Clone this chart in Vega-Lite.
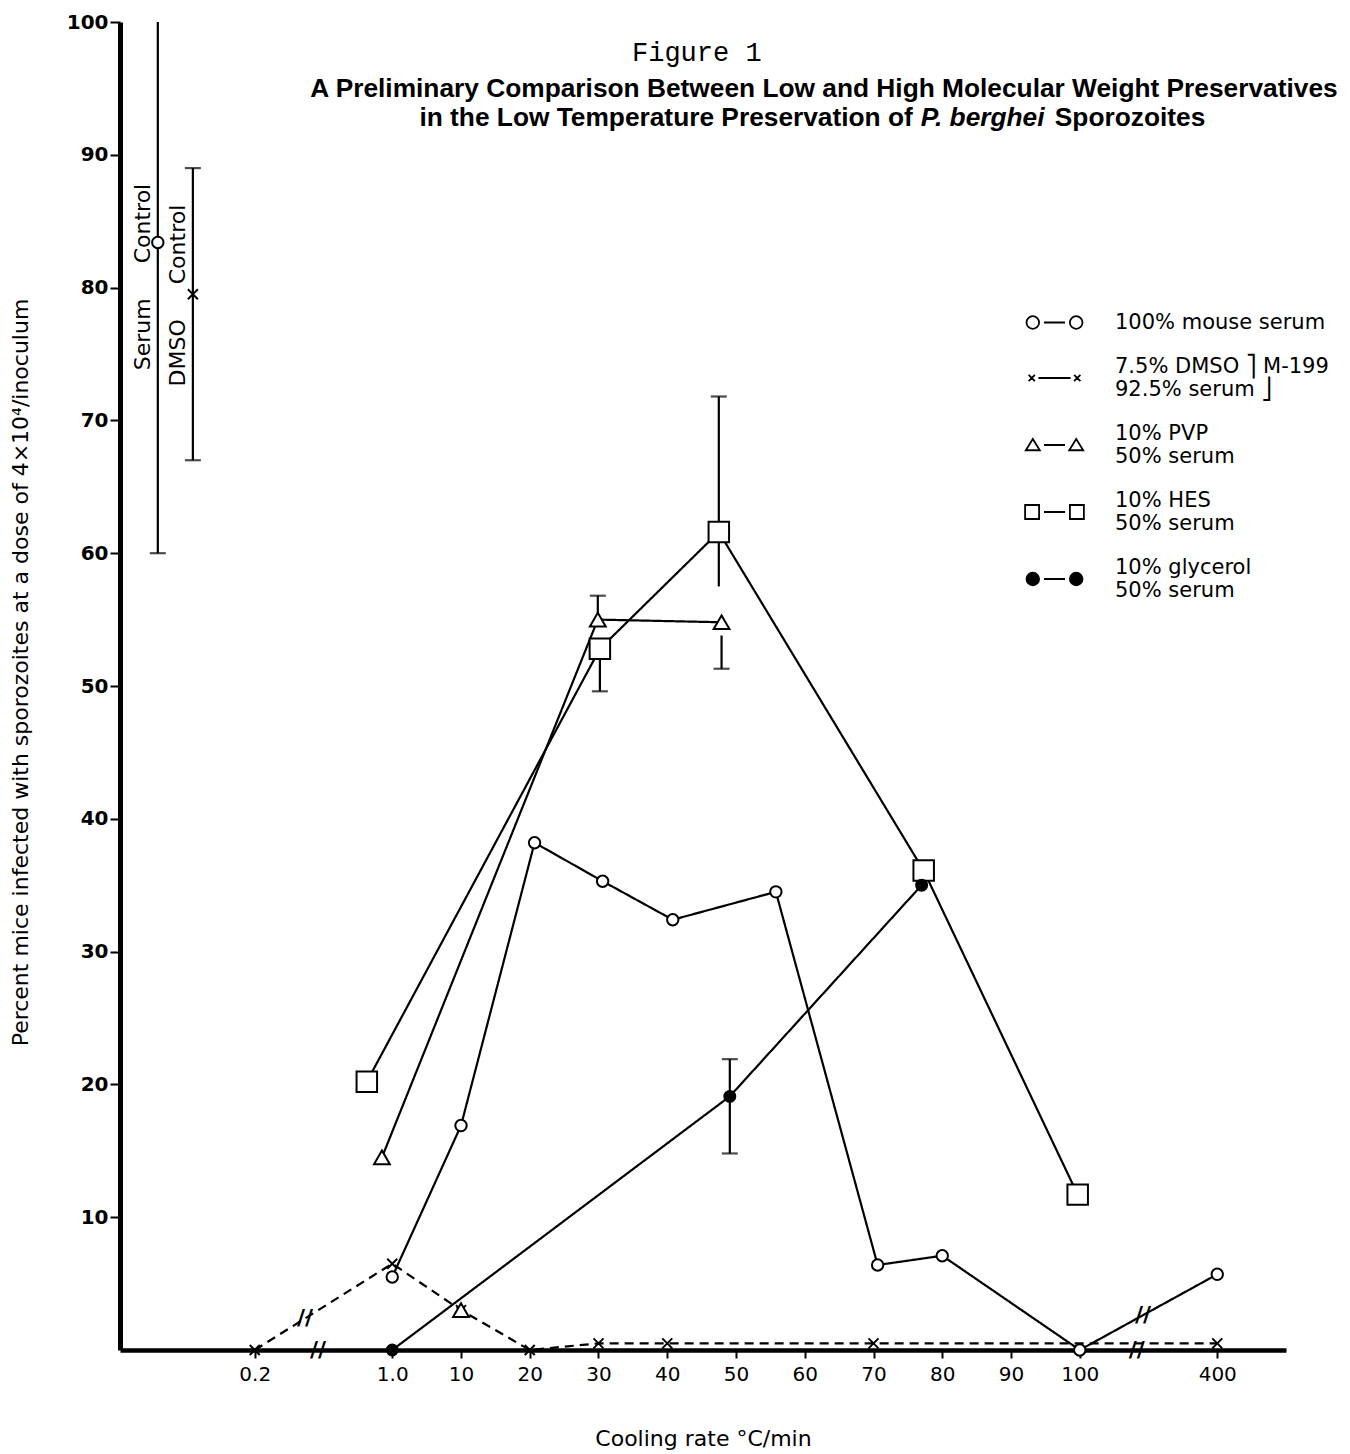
{
  "$schema": "https://vega.github.io/schema/vega-lite/v6.json",
  "width": 1166,
  "height": 1328,
  "autosize": {"type": "none"},
  "padding": {"left": 120, "top": 22, "right": 64, "bottom": 104},
  "background": "white",
  "config": {"view": {"stroke": null}, "font": "DejaVu Sans"},
  "datasets": {
    "points": [
      {"series": "100% mouse serum", "x": 0, "pct": 5.5, "joined": true},
      {"series": "100% mouse serum", "x": 10, "pct": 16.9, "joined": true},
      {"series": "100% mouse serum", "x": 20.7, "pct": 38.2, "joined": true},
      {"series": "100% mouse serum", "x": 30.6, "pct": 35.3, "joined": true},
      {"series": "100% mouse serum", "x": 40.8, "pct": 32.4, "joined": true},
      {"series": "100% mouse serum", "x": 55.8, "pct": 34.5, "joined": true},
      {"series": "100% mouse serum", "x": 70.6, "pct": 6.4, "joined": true},
      {"series": "100% mouse serum", "x": 80, "pct": 7.1, "joined": true},
      {"series": "100% mouse serum", "x": 100, "pct": 0, "joined": true},
      {"series": "100% mouse serum", "x": 120, "pct": 5.7, "joined": true},
      {"series": "100% mouse serum", "x": -34.1, "pct": 83.4, "joined": false},
      {"series": "7.5% DMSO / 92.5% serum", "x": -20, "pct": 0, "joined": true},
      {"series": "7.5% DMSO / 92.5% serum", "x": 0, "pct": 6.5, "joined": true},
      {"series": "7.5% DMSO / 92.5% serum", "x": 10, "pct": 3.0, "joined": true},
      {"series": "7.5% DMSO / 92.5% serum", "x": 20, "pct": 0, "joined": true},
      {"series": "7.5% DMSO / 92.5% serum", "x": 30, "pct": 0.5, "joined": true},
      {"series": "7.5% DMSO / 92.5% serum", "x": 40, "pct": 0.5, "joined": true},
      {"series": "7.5% DMSO / 92.5% serum", "x": 70, "pct": 0.5, "joined": true},
      {"series": "7.5% DMSO / 92.5% serum", "x": 120, "pct": 0.5, "joined": true},
      {"series": "7.5% DMSO / 92.5% serum", "x": -29.0, "pct": 79.5, "joined": false},
      {"series": "10% PVP / 50% serum", "x": -1.5, "pct": 14.5, "joined": true},
      {"series": "10% PVP / 50% serum", "x": 10, "pct": 3.0, "joined": false},
      {"series": "10% PVP / 50% serum", "x": 29.9, "pct": 55.0, "joined": true},
      {"series": "10% PVP / 50% serum", "x": 47.9, "pct": 54.8, "joined": true},
      {"series": "10% HES / 50% serum", "x": -3.7, "pct": 20.2, "joined": true},
      {"series": "10% HES / 50% serum", "x": 30.2, "pct": 52.8, "joined": true},
      {"series": "10% HES / 50% serum", "x": 47.5, "pct": 61.6, "joined": true},
      {"series": "10% HES / 50% serum", "x": 77.3, "pct": 36.1, "joined": true},
      {"series": "10% HES / 50% serum", "x": 99.7, "pct": 11.7, "joined": true},
      {"series": "10% glycerol / 50% serum", "x": 0, "pct": 0, "joined": true},
      {"series": "10% glycerol / 50% serum", "x": 49.1, "pct": 19.1, "joined": true},
      {"series": "10% glycerol / 50% serum", "x": 77.0, "pct": 35.0, "joined": true}
    ],
    "errors": [
      {"series": "100% mouse serum", "x": -34.1, "lo": 60, "hi": 100, "capLo": true, "capHi": false},
      {"series": "7.5% DMSO / 92.5% serum", "x": -29.0, "lo": 67, "hi": 89, "capLo": true, "capHi": true},
      {"series": "10% PVP / 50% serum", "x": 29.9, "lo": 55, "hi": 56.8, "capLo": false, "capHi": true},
      {"series": "10% HES / 50% serum", "x": 30.2, "lo": 49.6, "hi": 52.8, "capLo": true, "capHi": false},
      {"series": "10% HES / 50% serum", "x": 47.5, "lo": 57.5, "hi": 71.8, "capLo": false, "capHi": true},
      {"series": "10% PVP / 50% serum", "x": 47.9, "lo": 51.3, "hi": 53.8, "capLo": true, "capHi": false},
      {"series": "10% glycerol / 50% serum", "x": 49.1, "lo": 14.8, "hi": 21.9, "capLo": true, "capHi": true}
    ],
    "breaks": [
      {"x": -10.8, "pct": 0, "on": "axis"},
      {"x": 108.3, "pct": 0, "on": "axis"},
      {"x": -12.7, "pct": 2.4, "on": "line"},
      {"x": 109.2, "pct": 2.6, "on": "line"}
    ],
    "legendItems": [
      {"series": "100% mouse serum"},
      {"series": "7.5% DMSO / 92.5% serum"},
      {"series": "10% PVP / 50% serum"},
      {"series": "10% HES / 50% serum"},
      {"series": "10% glycerol / 50% serum"}
    ]
  },
  "layer": [
    {
      "data": {"name": "points"},
      "transform": [{"filter": "datum.joined"}],
      "mark": {"type": "line", "color": "black", "strokeWidth": 2.2},
      "encoding": {
        "x": {
          "field": "x", "type": "quantitative",
          "scale": {"domain": [-39.6, 130], "nice": false, "zero": false},
          "axis": {
            "values": [-20, 0, 10, 20, 30, 40, 50, 60, 70, 80, 90, 100, 120],
            "labelExpr": "datum.value == -20 ? '0.2' : datum.value == 0 ? '1.0' : datum.value == 120 ? '400' : datum.label",
            "title": "Cooling rate °C/min",
            "grid": false, "domainColor": "black", "domainWidth": 4.5,
            "tickColor": "black", "tickWidth": 2, "tickSize": 8,
            "labelFont": "DejaVu Sans", "labelFontSize": 20, "labelColor": "black", "labelPadding": 6,
            "titleFont": "DejaVu Sans", "titleFontSize": 22, "titleFontWeight": "normal", "titleColor": "black",
            "titleY": 78, "titleBaseline": "top"
          }
        },
        "y": {
          "field": "pct", "type": "quantitative",
          "scale": {"domain": [0, 100], "nice": false, "zero": true},
          "axis": {
            "values": [10, 20, 30, 40, 50, 60, 70, 80, 90, 100],
            "title": "Percent mice infected with sporozoites at a dose of 4×10⁴/inoculum",
            "grid": false, "domainColor": "black", "domainWidth": 5,
            "tickColor": "black", "tickWidth": 2, "tickSize": 10,
            "labelFont": "DejaVu Sans", "labelFontSize": 20, "labelFontWeight": "bold", "labelColor": "black", "labelPadding": 2,
            "titleFont": "DejaVu Sans", "titleFontSize": 22, "titleFontWeight": "normal", "titleColor": "black",
            "titleX": -100, "titleY": 650, "titleAngle": 270, "titleAlign": "center", "titleBaseline": "middle"
          }
        },
        "detail": {"field": "series", "type": "nominal"},
        "strokeDash": {
          "field": "series", "type": "nominal",
          "scale": {
            "domain": ["100% mouse serum", "7.5% DMSO / 92.5% serum", "10% PVP / 50% serum", "10% HES / 50% serum", "10% glycerol / 50% serum"],
            "range": [[1, 0], [9, 6], [1, 0], [1, 0], [1, 0]]
          },
          "legend": null
        }
      }
    },
    {
      "data": {"name": "errors"},
      "mark": {"type": "rule", "color": "black", "strokeWidth": 2.2},
      "encoding": {
        "x": {"field": "x", "type": "quantitative"},
        "y": {"field": "lo", "type": "quantitative"},
        "y2": {"field": "hi"}
      }
    },
    {
      "data": {"name": "errors"},
      "transform": [{"filter": "datum.capLo"}],
      "mark": {"type": "tick", "orient": "horizontal", "color": "black", "size": 16, "thickness": 2.2},
      "encoding": {
        "x": {"field": "x", "type": "quantitative"},
        "y": {"field": "lo", "type": "quantitative"}
      }
    },
    {
      "data": {"name": "errors"},
      "transform": [{"filter": "datum.capHi"}],
      "mark": {"type": "tick", "orient": "horizontal", "color": "black", "size": 16, "thickness": 2.2},
      "encoding": {
        "x": {"field": "x", "type": "quantitative"},
        "y": {"field": "hi", "type": "quantitative"}
      }
    },
    {
      "data": {"name": "points"},
      "mark": {"type": "point", "filled": true, "stroke": "black", "strokeWidth": 2, "opacity": 1},
      "encoding": {
        "x": {"field": "x", "type": "quantitative"},
        "y": {"field": "pct", "type": "quantitative"},
        "shape": {
          "field": "series", "type": "nominal",
          "scale": {
            "domain": ["100% mouse serum", "7.5% DMSO / 92.5% serum", "10% PVP / 50% serum", "10% HES / 50% serum", "10% glycerol / 50% serum"],
            "range": ["circle", "M-1,-1L1,1M-1,1L1,-1", "triangle-up", "square", "circle"]
          },
          "legend": null
        },
        "fill": {
          "field": "series", "type": "nominal",
          "scale": {
            "domain": ["100% mouse serum", "7.5% DMSO / 92.5% serum", "10% PVP / 50% serum", "10% HES / 50% serum", "10% glycerol / 50% serum"],
            "range": ["white", "white", "white", "white", "black"]
          },
          "legend": null
        },
        "size": {
          "field": "series", "type": "nominal",
          "scale": {
            "type": "ordinal",
            "domain": ["100% mouse serum", "7.5% DMSO / 92.5% serum", "10% PVP / 50% serum", "10% HES / 50% serum", "10% glycerol / 50% serum"],
            "range": [130, 100, 250, 420, 120]
          },
          "legend": null
        }
      }
    },
    {
      "data": {"name": "breaks"},
      "mark": {"type": "text", "text": "//", "font": "DejaVu Sans", "fontSize": 22, "fontWeight": "bold", "align": "center", "baseline": "middle", "color": "black"},
      "encoding": {
        "x": {"field": "x", "type": "quantitative"},
        "y": {"field": "pct", "type": "quantitative"}
      }
    },
    {
      "data": {"values": [{}]},
      "mark": {"type": "text", "text": "Serum\u00a0\u00a0\u00a0\u00a0\u00a0Control", "angle": 270, "font": "DejaVu Sans", "fontSize": 22, "align": "center", "baseline": "middle", "color": "black"},
      "encoding": {"x": {"datum": -36.3, "type": "quantitative"}, "y": {"datum": 80.8, "type": "quantitative"}}
    },
    {
      "data": {"values": [{}]},
      "mark": {"type": "text", "text": "DMSO\u00a0\u00a0\u00a0\u00a0\u00a0Control", "angle": 270, "font": "DejaVu Sans", "fontSize": 22, "align": "center", "baseline": "middle", "color": "black"},
      "encoding": {"x": {"datum": -31.2, "type": "quantitative"}, "y": {"datum": 79.4, "type": "quantitative"}}
    },
    {
      "data": {"values": [{}]},
      "mark": {"type": "text", "text": "Figure 1", "font": "Liberation Mono", "fontSize": 27, "align": "center", "baseline": "alphabetic", "color": "black"},
      "encoding": {"x": {"datum": 44.3, "type": "quantitative"}, "y": {"datum": 97.1, "type": "quantitative"}}
    },
    {
      "data": {"values": [{}]},
      "mark": {"type": "text", "text": "A Preliminary Comparison Between Low and High Molecular Weight Preservatives", "font": "Liberation Sans", "fontSize": 26.3, "fontWeight": "bold", "align": "center", "baseline": "alphabetic", "color": "black"},
      "encoding": {"x": {"datum": 62.8, "type": "quantitative"}, "y": {"datum": 94.35, "type": "quantitative"}}
    },
    {
      "data": {"values": [{}]},
      "mark": {"type": "text", "text": "in the Low Temperature Preservation of", "font": "Liberation Sans", "fontSize": 26.3, "fontWeight": "bold", "align": "right", "dx": -4, "baseline": "alphabetic", "color": "black"},
      "encoding": {"x": {"datum": 76.3, "type": "quantitative"}, "y": {"datum": 92.2, "type": "quantitative"}}
    },
    {
      "data": {"values": [{}]},
      "mark": {"type": "text", "text": "P. berghei", "font": "Liberation Sans", "fontSize": 26.3, "fontWeight": "bold", "fontStyle": "italic", "align": "left", "dx": 4, "baseline": "alphabetic", "color": "black"},
      "encoding": {"x": {"datum": 76.3, "type": "quantitative"}, "y": {"datum": 92.2, "type": "quantitative"}}
    },
    {
      "data": {"values": [{}]},
      "mark": {"type": "text", "text": "Sporozoites", "font": "Liberation Sans", "fontSize": 26.3, "fontWeight": "bold", "align": "left", "dx": 138, "baseline": "alphabetic", "color": "black"},
      "encoding": {"x": {"datum": 76.3, "type": "quantitative"}, "y": {"datum": 92.2, "type": "quantitative"}}
    },
    {
      "data": {"name": "legendItems"},
      "mark": {"type": "point", "filled": false, "opacity": 0, "strokeWidth": 1.8},
      "encoding": {
        "x": {"datum": 0, "type": "quantitative"},
        "y": {"datum": 50, "type": "quantitative"},
        "shape": {
          "field": "series", "type": "nominal",
          "scale": {
            "domain": ["100% mouse serum", "7.5% DMSO / 92.5% serum", "10% PVP / 50% serum", "10% HES / 50% serum", "10% glycerol / 50% serum"],
            "range": [
              "M-2.2,0A0.9,0.9,0,1,1,-4,0A0.9,0.9,0,1,1,-2.2,0ZM-1.5,0L1.5,0M4,0A0.9,0.9,0,1,1,2.2,0A0.9,0.9,0,1,1,4,0Z",
              "M-3.7,1.19L-2.8,2.09M-3.7,2.09L-2.8,1.19M-2.3,1.64L2.3,1.64M2.8,1.19L3.7,2.09M2.8,2.09L3.7,1.19",
              "M-3.1,0.79L-2.1,2.39L-4.1,2.39ZM-1.5,1.64L1.5,1.64M3.1,0.79L4.1,2.39L2.1,2.39Z",
              "M-4.2,0.64L-2.2,0.64L-2.2,2.64L-4.2,2.64ZM-1.5,1.64L1.5,1.64M2.2,0.64L4.2,0.64L4.2,2.64L2.2,2.64Z",
              "M-2.2,1.64A0.9,0.9,0,1,1,-4,1.64A0.9,0.9,0,1,1,-2.2,1.64ZM-1.5,1.64L1.5,1.64M4,1.64A0.9,0.9,0,1,1,2.2,1.64A0.9,0.9,0,1,1,4,1.64Z"
            ]
          },
          "legend": {
            "title": null, "orient": "none", "legendX": 924, "legendY": 290, "padding": 0,
            "symbolSize": 196, "symbolOpacity": 1, "symbolStrokeWidth": 1.8,
            "labelFont": "DejaVu Sans", "labelFontSize": 21, "labelColor": "black", "labelOffset": 50, "labelLimit": 500,
            "rowPadding": 22,
            "labelExpr": "datum.label == '7.5% DMSO / 92.5% serum' ? ['7.5% DMSO ⎤ M-199', '92.5% serum ⎦'] : split(datum.label, ' / ')"
          }
        },
        "fill": {
          "field": "series", "type": "nominal",
          "scale": {
            "domain": ["100% mouse serum", "7.5% DMSO / 92.5% serum", "10% PVP / 50% serum", "10% HES / 50% serum", "10% glycerol / 50% serum"],
            "range": ["white", "white", "white", "white", "black"]
          },
          "legend": {
            "title": null, "orient": "none", "legendX": 924, "legendY": 290, "padding": 0,
            "symbolSize": 196, "symbolOpacity": 1, "symbolStrokeWidth": 1.8,
            "labelFont": "DejaVu Sans", "labelFontSize": 21, "labelColor": "black", "labelOffset": 50, "labelLimit": 500,
            "rowPadding": 22,
            "labelExpr": "datum.label == '7.5% DMSO / 92.5% serum' ? ['7.5% DMSO ⎤ M-199', '92.5% serum ⎦'] : split(datum.label, ' / ')"
          }
        },
        "stroke": {
          "field": "series", "type": "nominal",
          "scale": {
            "domain": ["100% mouse serum", "7.5% DMSO / 92.5% serum", "10% PVP / 50% serum", "10% HES / 50% serum", "10% glycerol / 50% serum"],
            "range": ["black", "black", "black", "black", "black"]
          },
          "legend": {
            "title": null, "orient": "none", "legendX": 924, "legendY": 290, "padding": 0,
            "symbolSize": 196, "symbolOpacity": 1, "symbolStrokeWidth": 1.8,
            "labelFont": "DejaVu Sans", "labelFontSize": 21, "labelColor": "black", "labelOffset": 50, "labelLimit": 500,
            "rowPadding": 22,
            "labelExpr": "datum.label == '7.5% DMSO / 92.5% serum' ? ['7.5% DMSO ⎤ M-199', '92.5% serum ⎦'] : split(datum.label, ' / ')"
          }
        }
      }
    }
  ],
  "resolve": {
    "scale": {"shape": "independent", "fill": "independent", "stroke": "independent"},
    "legend": {"shape": "independent", "fill": "independent", "stroke": "independent"}
  }
}
